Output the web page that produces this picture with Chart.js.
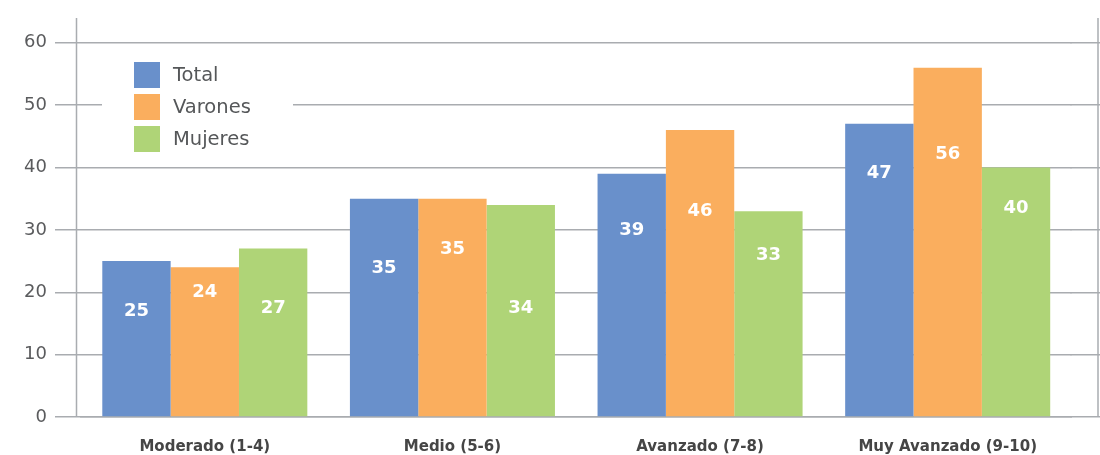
<!DOCTYPE html>
<html>
<head>
<meta charset="utf-8">
<script src="https://cdn.jsdelivr.net/npm/chart.js@4/dist/chart.umd.min.js"></script>
<style>
  html, body { margin: 0; padding: 0; background: #ffffff; }
  #wrap { width: 1100px; height: 455px; }
</style>
</head>
<body>
<div id="wrap"><canvas id="c" width="1100" height="455"></canvas></div>
<script>
// Level categories and the share (%) for each group
const categories = ['Moderado (1-4)', 'Medio (5-6)', 'Avanzado (7-8)', 'Muy Avanzado (9-10)'];
const seriesNames = ['Total', 'Varones', 'Mujeres'];
const total   = [25, 35, 39, 47];
const varones = [24, 35, 46, 56];
const mujeres = [27, 34, 33, 40];
const yTickStep = 10;
const yTickMax = 60;

// Colours
const colors = ['#6990cb', '#faae5e', '#afd477'];
const gridColor = '#a9acb0';
const gridWidth = 1.5;
const FONT = "'DejaVu Sans', sans-serif";

// Height (in axis units) at which each value label sits inside its bar
const labelLevels = [
  [17.0, 23.8, 29.9, 39.0],
  [20.0, 26.9, 33.0, 42.1],
  [17.4, 17.4, 25.9, 33.4]
];

// same pixel snapping Chart.js applies to its own grid lines
function snap(p, w) { return Math.round(p - w / 2) + w / 2; }

const frame = {
  id: 'frame',
  beforeDatasetsDraw(chart) {
    const { ctx, chartArea: a, scales: { y } } = chart;
    const top = 18;
    ctx.save();
    ctx.strokeStyle = gridColor;
    ctx.lineWidth = gridWidth;
    // gridlines continue past the plot to the right edge
    y.ticks.forEach(t => {
      const py = snap(y.getPixelForValue(t.value), gridWidth);
      ctx.beginPath();
      ctx.moveTo(a.right - 1, py);
      ctx.lineTo(chart.width, py);
      ctx.stroke();
    });
    // left and right vertical rules
    const bottom = snap(y.getPixelForValue(0), gridWidth);
    [a.left - 4.5, chart.width - 2].forEach(x => {
      ctx.beginPath();
      ctx.moveTo(x, top);
      ctx.lineTo(x, bottom);
      ctx.stroke();
    });
    ctx.restore();
  }
};

const insetLegend = {
  id: 'insetLegend',
  beforeDatasetsDraw(chart) {
    const { ctx, chartArea: a } = chart;
    ctx.save();
    ctx.fillStyle = '#ffffff';
    ctx.fillRect(a.left + 21, 50, 191, 110);
    const bx = a.left + 53, box = 26, gap = 32, y0 = 62;
    ctx.font = '19.5px ' + FONT;
    ctx.textBaseline = 'middle';
    ctx.textAlign = 'left';
    chart.data.datasets.forEach((ds, i) => {
      const by = y0 + i * gap;
      ctx.fillStyle = ds.backgroundColor;
      ctx.fillRect(bx, by, box, box);
      ctx.fillStyle = '#555759';
      ctx.fillText(ds.label, bx + box + 13, by + box / 2 + 1);
    });
    ctx.restore();
  }
};

const valueLabels = {
  id: 'valueLabels',
  afterDatasetsDraw(chart) {
    const { ctx, scales: { y } } = chart;
    ctx.save();
    ctx.font = 'bold 18px ' + FONT;
    ctx.fillStyle = '#ffffff';
    ctx.textAlign = 'center';
    ctx.textBaseline = 'middle';
    chart.data.datasets.forEach((ds, i) => {
      chart.getDatasetMeta(i).data.forEach((bar, j) => {
        ctx.fillText(String(ds.data[j]), bar.x, y.getPixelForValue(labelLevels[i][j]));
      });
    });
    ctx.restore();
  }
};

new Chart(document.getElementById('c'), {
  type: 'bar',
  data: {
    labels: categories,
    datasets: [total, varones, mujeres].map((d, i) => ({
      label: seriesNames[i],
      data: d,
      backgroundColor: colors[i],
      borderWidth: 0,
      categoryPercentage: 0.828,
      barPercentage: 1.0
    }))
  },
  options: {
    responsive: false,
    animation: false,
    devicePixelRatio: 1,
    layout: { padding: { top: 18, right: 28.5, left: 0, bottom: 0 } },
    plugins: { legend: { display: false }, tooltip: { enabled: false } },
    scales: {
      x: {
        grid: { display: false, drawTicks: false },
        border: { display: true, color: gridColor, width: gridWidth },
        ticks: { color: '#454545', font: { family: FONT, size: 15, weight: 'bold' }, padding: 21, maxRotation: 0 },
        afterFit(s) { s.height = 38; }
      },
      y: {
        min: 0,
        max: 63.84,
        grid: { color: gridColor, lineWidth: gridWidth, tickLength: 26, drawTicks: true },
        border: { display: false },
        ticks: { stepSize: yTickStep, color: '#5a5b5d', font: { family: FONT, size: 18 }, padding: 8 },
        afterBuildTicks(s) { s.ticks = s.ticks.filter(t => t.value % yTickStep === 0 && t.value <= yTickMax); },
        afterFit(s) { s.width = 81; }
      }
    }
  },
  plugins: [frame, insetLegend, valueLabels]
});
</script>
</body>
</html>
